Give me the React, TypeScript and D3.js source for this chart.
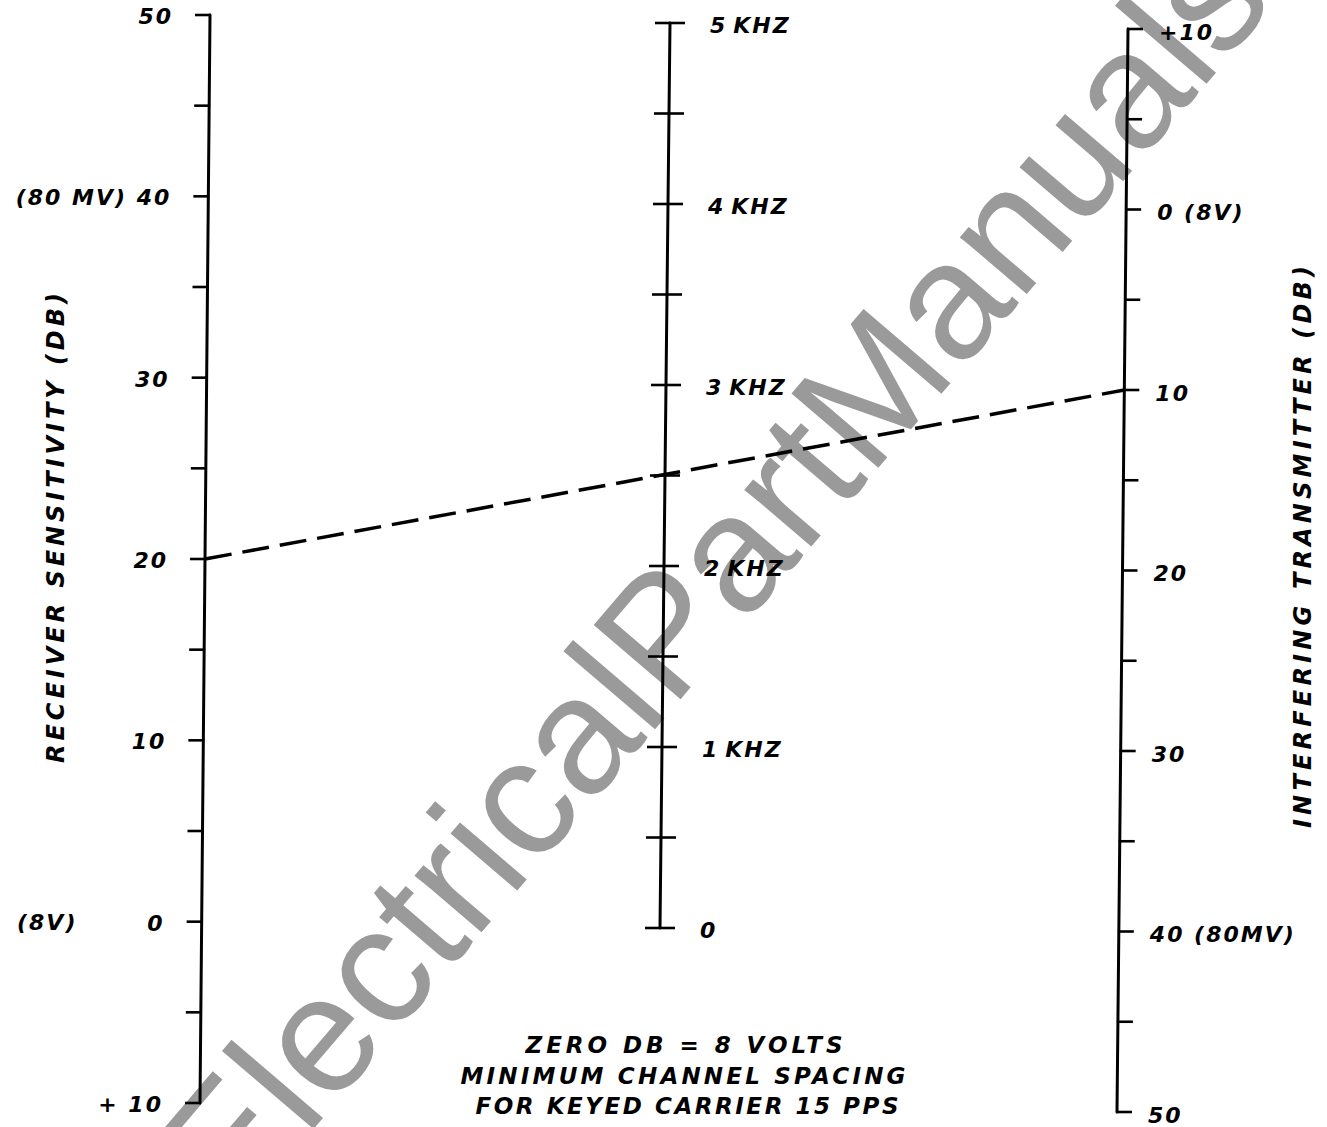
import React, { useEffect, useRef } from "react";
import * as d3 from "d3";

const WIDTH = 1327;
const HEIGHT = 1127;
const INK = "#000";
const LETTER_FONT = "'DejaVu Sans', sans-serif";

// left scale: receiver sensitivity (dB)
const receiverTicks = [50, 45, 40, 35, 30, 25, 20, 15, 10, 5, 0, -5, -10];
const receiverLabelValues = [50, 40, 30, 20, 10, 0, -10];
const receiverLabelText = ["50", "(80 MV) 40", "30", "20", "10", "0", "+ 10"];

// middle scale: channel spacing (kHz)
const freqTicks = [5, 4.5, 4, 3.5, 3, 2.5, 2, 1.5, 1, 0.5, 0];
const freqLabelValues = [5, 4, 3, 2, 1, 0];
const freqLabelText = ["5", "4", "3", "2", "1", "0"];

// right scale: interfering transmitter (dB)
const interfererTicks = [-10, -5, 0, 5, 10, 15, 20, 25, 30, 35, 40, 45, 50];
const interfererLabelValues = [-10, 0, 10, 20, 30, 40, 50];
const interfererLabelText = ["+10", "0 (8V)", "10", "20", "30", "40 (80MV)", "50"];

// worked example drawn as the dashed line
const exampleReceiverDb = 20;
const exampleInterfererDb = 10;

const notes = ["ZERO  DB = 8 VOLTS", "MINIMUM  CHANNEL  SPACING", "FOR  KEYED  CARRIER  15 PPS"];

const Nomograph: React.FC = () => {
  const chartRef = useRef<SVGGElement | null>(null);

  useEffect(() => {
    const g = d3.select(chartRef.current);
    g.selectAll("*").remove();

    // scales (x drifts slightly, the drawing is a bit skewed)
    const yRecv = d3.scaleLinear().domain([50, -10]).range([15, 1103]);
    const xRecv = d3.scaleLinear().domain([50, -10]).range([210, 200]);
    const yFreq = d3.scaleLinear().domain([5, 0]).range([23, 928]);
    const xFreq = d3.scaleLinear().domain([5, 0]).range([670, 660]);
    const yInt = d3.scaleLinear().domain([-10, 50]).range([29, 1112]);
    const xInt = d3.scaleLinear().domain([-10, 50]).range([1128, 1117]);

    // watermark
    g.append("text")
      .attr("transform", "translate(712,574) rotate(-49.5)")
      .attr("text-anchor", "middle")
      .attr("dominant-baseline", "central")
      .attr("font-family", "'Liberation Sans', Arial, sans-serif")
      .attr("font-size", 166)
      .attr("fill", "#9a9a9a")
      .text("ElectricalPartManuals");

    const axis = (
      ticks: number[],
      xs: d3.ScaleLinear<number, number>,
      ys: d3.ScaleLinear<number, number>,
      dom: number[],
      left: number,
      right: number
    ) => {
      g.append("line")
        .attr("x1", xs(dom[0])).attr("y1", ys(dom[0]))
        .attr("x2", xs(dom[1])).attr("y2", ys(dom[1]))
        .attr("stroke", INK).attr("stroke-width", 3).attr("stroke-linecap", "round");
      g.selectAll(null)
        .data(ticks)
        .enter()
        .append("line")
        .attr("x1", (d) => xs(d) - left)
        .attr("x2", (d) => xs(d) + right)
        .attr("y1", (d) => ys(d))
        .attr("y2", (d) => ys(d))
        .attr("stroke", INK)
        .attr("stroke-width", 2.6);
    };

    axis(receiverTicks, xRecv, yRecv, [50, -10], 15, 1);
    axis(freqTicks, xFreq, yFreq, [5, 0], 15, 15);
    axis(interfererTicks, xInt, yInt, [-10, 50], 1, 15);

    const label = (sel: any) =>
      sel
        .attr("font-family", LETTER_FONT)
        .attr("font-style", "italic")
        .attr("font-weight", "bold")
        .attr("font-size", 22)
        .attr("letter-spacing", 2)
        .attr("fill", INK)
        .attr("dy", "0.36em");

    g.selectAll(null)
      .data(receiverLabelValues)
      .enter()
      .append("text")
      .call(label)
      .attr("x", (d) => xRecv(d) - 37)
      .attr("y", (d) => yRecv(d) + 1)
      .attr("text-anchor", "end")
      .text((d, i) => receiverLabelText[i]);

    g.append("text")
      .call(label)
      .attr("x", 17)
      .attr("y", yRecv(0))
      .text("(8V)");

    const freqText = g
      .selectAll(null)
      .data(freqLabelValues)
      .enter()
      .append("text")
      .call(label)
      .attr("x", (d) => xFreq(d) + 40)
      .attr("y", (d) => yFreq(d) + 2);
    freqText.append("tspan").text((d, i) => freqLabelText[i]);
    freqText
      .filter((d) => d !== 0)
      .append("tspan")
      .attr("dx", 6)
      .text("KHZ");

    g.selectAll(null)
      .data(interfererLabelValues)
      .enter()
      .append("text")
      .call(label)
      .attr("x", (d) => xInt(d) + 31)
      .attr("y", (d) => yInt(d) + 3)
      .text((d, i) => interfererLabelText[i]);

    // dashed example line
    g.append("line")
      .attr("x1", xRecv(exampleReceiverDb))
      .attr("y1", yRecv(exampleReceiverDb))
      .attr("x2", xInt(exampleInterfererDb))
      .attr("y2", yInt(exampleInterfererDb))
      .attr("stroke", INK)
      .attr("stroke-width", 3.5)
      .attr("stroke-dasharray", "27 11");

    // axis titles
    g.append("text")
      .attr("transform", "translate(64,528) rotate(-90)")
      .attr("text-anchor", "middle")
      .attr("font-family", LETTER_FONT)
      .attr("font-style", "italic")
      .attr("font-weight", "bold")
      .attr("font-size", 24)
      .attr("textLength", 470)
      .attr("lengthAdjust", "spacing")
      .text("RECEIVER  SENSITIVITY (DB)");

    g.append("text")
      .attr("transform", "translate(1311,547) rotate(-90)")
      .attr("text-anchor", "middle")
      .attr("font-family", LETTER_FONT)
      .attr("font-style", "italic")
      .attr("font-weight", "bold")
      .attr("font-size", 24)
      .attr("textLength", 562)
      .attr("lengthAdjust", "spacing")
      .text("INTERFERING  TRANSMITTER  (DB)");

    const noteWidths = [317, 445, 423];
    const noteX = [684, 683, 687];
    const noteY = [1053, 1084, 1114];
    notes.forEach((t, i) => {
      g.append("text")
        .attr("x", noteX[i])
        .attr("y", noteY[i])
        .attr("text-anchor", "middle")
        .attr("font-family", LETTER_FONT)
        .attr("font-style", "italic")
        .attr("font-weight", "bold")
        .attr("font-size", 23)
        .attr("textLength", noteWidths[i])
        .attr("lengthAdjust", "spacing")
        .text(t);
    });
  }, []);

  return (
    <svg
      width={WIDTH}
      height={HEIGHT}
      style={{ position: "absolute", left: 0, top: 0, background: "#fff" }}
    >
      <g ref={chartRef} />
    </svg>
  );
};

export default function App() {
  return <Nomograph />;
}
